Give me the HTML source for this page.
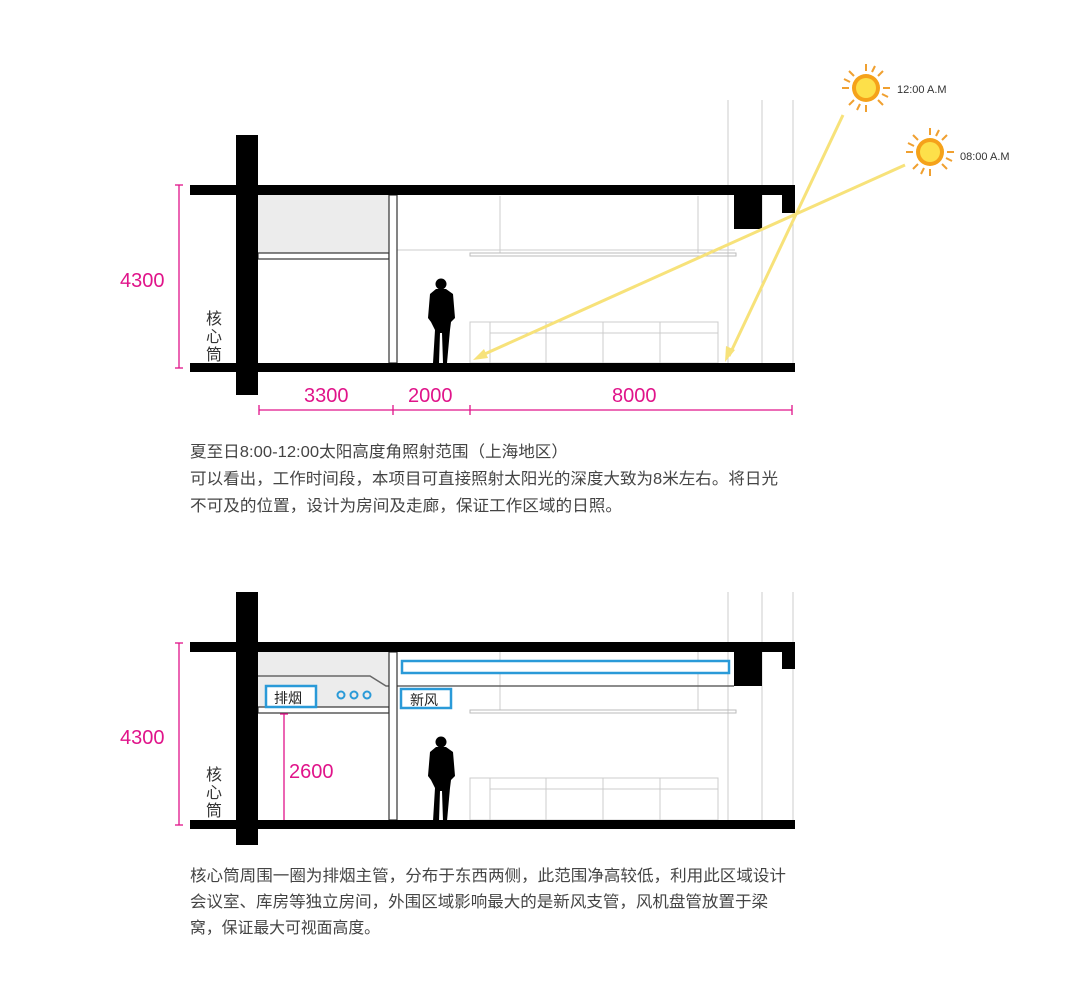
<!DOCTYPE html>
<html><head><meta charset="utf-8"><style>
html,body{margin:0;padding:0;background:#fff;}
svg{display:block;}
.t{font-family:"Liberation Sans","Noto Sans CJK SC",sans-serif;}
</style></head><body>
<svg width="1080" height="985" viewBox="0 0 1080 985" xmlns="http://www.w3.org/2000/svg" class="t">
<defs>
<g id="person">
<circle cx="0" cy="6" r="5.5" fill="#000"/>
<path d="M-5,11 L5,11 L12,16 L14,40 L10,44 L9,52 L6,85 L2,85 L1,55 L-1,55 L-2,85 L-8,85 L-6,52 L-10,44 L-13,40 L-11,16 Z" fill="#000"/>
</g>
<g id="sun">
<g stroke="#f0a030" stroke-width="2">
<line x1="0" y1="-17" x2="0" y2="-24"/><line x1="0" y1="17" x2="0" y2="24"/>
<line x1="-17" y1="0" x2="-24" y2="0"/><line x1="17" y1="0" x2="24" y2="0"/>
<line x1="12" y1="12" x2="17" y2="17"/><line x1="-12" y1="-12" x2="-17" y2="-17"/>
<line x1="12" y1="-12" x2="17" y2="-17"/><line x1="-12" y1="12" x2="-17" y2="17"/>
<line x1="6" y1="-16" x2="9" y2="-22"/><line x1="-6" y1="16" x2="-9" y2="22"/>
<line x1="16" y1="6" x2="22" y2="9"/><line x1="-16" y1="-6" x2="-22" y2="-9"/>
</g>
<circle r="14" fill="#f5a21a"/><circle r="10" fill="#fde04a"/>
</g>
</defs>

<!-- ===== TOP DIAGRAM ===== -->
<g stroke="#ccc" stroke-width="1" fill="none">
<line x1="728" y1="100" x2="728" y2="363"/>
<line x1="762" y1="100" x2="762" y2="363"/>
<line x1="793" y1="100" x2="793" y2="363"/>
<line x1="500" y1="196" x2="500" y2="253"/>
<line x1="698" y1="196" x2="698" y2="253"/>
<line x1="397" y1="250" x2="735" y2="250"/>
<rect x="470" y="253" width="266" height="3" stroke="#bbb"/>
<rect x="470" y="322" width="248" height="41"/>
<line x1="490" y1="333" x2="718" y2="333"/>
<line x1="490" y1="322" x2="490" y2="363"/>
<line x1="546" y1="322" x2="546" y2="363"/>
<line x1="603" y1="322" x2="603" y2="363"/>
<line x1="660" y1="322" x2="660" y2="363"/>
</g>
<rect x="258" y="195" width="131" height="58" fill="#ececec"/>
<rect x="258" y="253" width="131" height="6" fill="#fff" stroke="#333" stroke-width="1.2"/>
<rect x="389" y="195" width="8" height="168" fill="#fff" stroke="#333" stroke-width="1.2"/>
<rect x="190" y="185" width="605" height="10" fill="#000"/>
<rect x="190" y="363" width="605" height="9" fill="#000"/>
<rect x="236" y="135" width="22" height="260" fill="#000"/>
<rect x="734" y="195" width="28" height="34" fill="#000"/>
<rect x="782" y="195" width="13" height="18" fill="#000"/>
<use href="#person" x="441" y="278"/>
<!-- rays -->
<g stroke="#f7e27a" stroke-width="3" fill="none">
<line x1="843" y1="115" x2="729" y2="356"/>
<line x1="905" y1="165" x2="478" y2="357"/>
</g>
<path d="M725,362 L726,346 L735,350 Z" fill="#f7e27a"/>
<path d="M473,360 L484,349 L488,358 Z" fill="#f7e27a"/>
<use href="#sun" x="866" y="88"/>
<use href="#sun" x="930" y="152"/>
<text x="897" y="93" font-size="11" fill="#333">12:00 A.M</text>
<text x="960" y="160" font-size="11" fill="#333">08:00 A.M</text>
<!-- dims -->
<g stroke="#e0148a" stroke-width="1.3">
<line x1="179" y1="185" x2="179" y2="368"/>
<line x1="175" y1="185" x2="183" y2="185"/><line x1="175" y1="368" x2="183" y2="368"/>
<line x1="259" y1="410" x2="792" y2="410"/>
<line x1="259" y1="405" x2="259" y2="415"/><line x1="393" y1="405" x2="393" y2="415"/>
<line x1="470" y1="405" x2="470" y2="415"/><line x1="792" y1="405" x2="792" y2="415"/>
</g>
<g fill="#e0148a" font-size="20">
<text x="120" y="287">4300</text>
<text x="304" y="402">3300</text>
<text x="408" y="402">2000</text>
<text x="612" y="402">8000</text>
</g>
<g font-size="16" fill="#333">
<text x="206" y="324">核</text><text x="206" y="342">心</text><text x="206" y="360">筒</text>
</g>
<g font-size="16" fill="#444">
<text x="190" y="457" textLength="378" lengthAdjust="spacingAndGlyphs">夏至日8:00-12:00太阳高度角照射范围（上海地区）</text>
<text x="190" y="484" textLength="588" lengthAdjust="spacingAndGlyphs">可以看出，工作时间段，本项目可直接照射太阳光的深度大致为8米左右。将日光</text>
<text x="190" y="511" textLength="432" lengthAdjust="spacingAndGlyphs">不可及的位置，设计为房间及走廊，保证工作区域的日照。</text>
</g>

<!-- ===== BOTTOM DIAGRAM ===== -->
<g stroke="#ccc" stroke-width="1" fill="none">
<line x1="728" y1="592" x2="728" y2="820"/>
<line x1="762" y1="592" x2="762" y2="820"/>
<line x1="793" y1="592" x2="793" y2="820"/>
<line x1="500" y1="652" x2="500" y2="710"/>
<line x1="698" y1="652" x2="698" y2="710"/>
<rect x="470" y="710" width="266" height="3" stroke="#bbb"/>
<rect x="470" y="778" width="248" height="42"/>
<line x1="490" y1="789" x2="718" y2="789"/>
<line x1="490" y1="778" x2="490" y2="820"/>
<line x1="546" y1="778" x2="546" y2="820"/>
<line x1="603" y1="778" x2="603" y2="820"/>
<line x1="660" y1="778" x2="660" y2="820"/>
</g>
<path d="M258,652 L389,652 L389,712 L258,712 Z" fill="#ececec"/>
<path d="M258,676 L370,676 L386,686 L734,686" fill="none" stroke="#666" stroke-width="1.5"/>
<rect x="258" y="707" width="131" height="6" fill="#fff" stroke="#333" stroke-width="1.2"/>
<rect x="389" y="652" width="8" height="168" fill="#fff" stroke="#333" stroke-width="1.2"/>
<rect x="190" y="642" width="605" height="10" fill="#000"/>
<rect x="190" y="820" width="605" height="9" fill="#000"/>
<rect x="236" y="592" width="22" height="253" fill="#000"/>
<rect x="734" y="652" width="28" height="34" fill="#000"/>
<rect x="782" y="652" width="13" height="17" fill="#000"/>
<rect x="402" y="661" width="327" height="12" fill="#fff" stroke="#2a9ad8" stroke-width="2.5"/>
<rect x="266" y="686" width="50" height="21" fill="#fff" stroke="#2a9ad8" stroke-width="2.5"/>
<rect x="401" y="689" width="50" height="19" fill="#fff" stroke="#2a9ad8" stroke-width="2.5"/>
<g fill="none" stroke="#2a9ad8" stroke-width="2"><circle cx="341" cy="695" r="3.5"/><circle cx="354" cy="695" r="3.5"/><circle cx="367" cy="695" r="3.5"/></g>
<text x="274" y="703" font-size="14" fill="#222">排烟</text>
<text x="410" y="705" font-size="14" fill="#222">新风</text>
<use href="#person" x="441" y="736"/>
<g stroke="#e0148a" stroke-width="1.3">
<line x1="179" y1="643" x2="179" y2="825"/>
<line x1="175" y1="643" x2="183" y2="643"/><line x1="175" y1="825" x2="183" y2="825"/>
<line x1="284" y1="714" x2="284" y2="820"/>
<line x1="280" y1="714" x2="288" y2="714"/>
</g>
<g fill="#e0148a" font-size="20">
<text x="120" y="744">4300</text>
<text x="289" y="778">2600</text>
</g>
<g font-size="16" fill="#333">
<text x="206" y="780">核</text><text x="206" y="798">心</text><text x="206" y="816">筒</text>
</g>
<g font-size="16" fill="#444">
<text x="190" y="881" textLength="596" lengthAdjust="spacingAndGlyphs">核心筒周围一圈为排烟主管，分布于东西两侧，此范围净高较低，利用此区域设计</text>
<text x="190" y="907" textLength="578" lengthAdjust="spacingAndGlyphs">会议室、库房等独立房间，外围区域影响最大的是新风支管，风机盘管放置于梁</text>
<text x="190" y="933" textLength="190" lengthAdjust="spacingAndGlyphs">窝，保证最大可视面高度。</text>
</g>
</svg>
</body></html>
